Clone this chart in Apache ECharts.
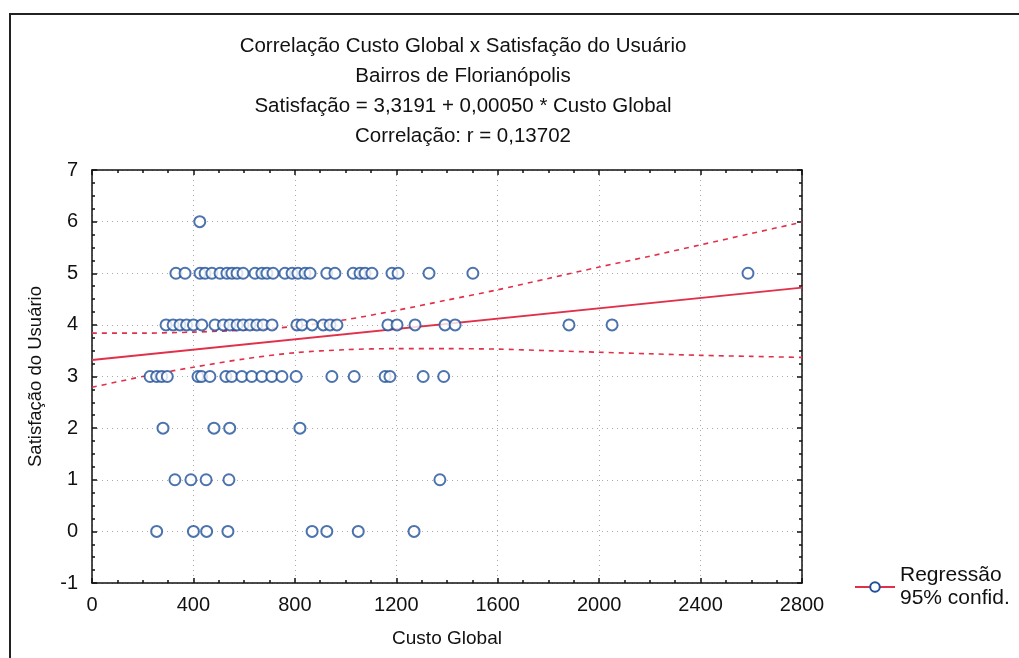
<!DOCTYPE html>
<html>
<head>
<meta charset="utf-8">
<script src="https://cdn.jsdelivr.net/npm/echarts@6/dist/echarts.min.js"></script>
<style>
html,body{margin:0;padding:0;background:#fff;}
#chart{width:1019px;height:658px;}
</style>
</head>
<body>
<div id="chart"></div>
<script>
// Custo Global values of the points at each Satisfação level
var custoAt6 = [425];
var custoAt5 = [331, 367, 426, 446, 473, 505, 532, 552, 572, 596, 643, 670, 690, 714, 761, 789, 812, 840, 860, 926, 958, 1030, 1057, 1077, 1104, 1183, 1207, 1329, 1502, 2587];
var custoAt4 = [292, 320, 347, 373, 400, 433, 485, 518, 544, 572, 596, 623, 650, 675, 710, 808, 828, 868, 912, 939, 966, 1167, 1203, 1274, 1392, 1432, 1881, 2051];
var custoAt3 = [229, 255, 275, 297, 418, 432, 465, 528, 551, 591, 630, 670, 709, 749, 805, 946, 1034, 1156, 1175, 1306, 1387];
var custoAt2 = [280, 481, 543, 820];
var custoAt1 = [327, 390, 450, 540, 1372];
var custoAt0 = [255, 400, 452, 536, 868, 926, 1050, 1270];
var levels = [6, 5, 4, 3, 2, 1, 0];

// regression line (read at the ends)
var regX = [0, 2800];
var regY = [3.32, 4.72];

// 95% confidence bands
var confX = [0, 200, 400, 600, 800, 1000, 1200, 1400, 1600, 1800, 2000, 2200, 2400, 2600, 2800];
var confUpper = [3.84, 3.84, 3.86, 3.90, 3.97, 4.10, 4.28, 4.48, 4.68, 4.90, 5.12, 5.33, 5.55, 5.77, 5.99];
var confLower = [2.79, 3.00, 3.18, 3.34, 3.46, 3.52, 3.54, 3.54, 3.53, 3.50, 3.47, 3.44, 3.41, 3.39, 3.37];

var titleLines = [
  'Correlação Custo Global x Satisfação do Usuário',
  'Bairros de Florianópolis',
  'Satisfação = 3,3191 + 0,00050 * Custo Global',
  'Correlação: r = 0,13702'
];

var custoByLevel = [custoAt6, custoAt5, custoAt4, custoAt3, custoAt2, custoAt1, custoAt0];
var points = [];
levels.forEach(function (lv, i) {
  custoByLevel[i].forEach(function (c) { points.push([c, lv]); });
});
function zip(a, b) { return a.map(function (v, i) { return [v, b[i]]; }); }

var FONT = '"Liberation Sans", Arial, sans-serif';
var BLUE = '#1f5099';
var RED = '#e0304a';
var LEG = 'Regressão\n95% confid.';

var chart = echarts.init(document.getElementById('chart'));
var axisCommon = {
  axisLine: { show: true, onZero: false, lineStyle: { color: '#111', width: 1.5 } },
  axisTick: { show: true, inside: true, length: 5, lineStyle: { color: '#111', width: 1.5 } },
  minorTick: { show: true, splitNumber: 4, length: 3, lineStyle: { color: '#111', width: 1.5 } }
};
chart.setOption({
  backgroundColor: '#ffffff',
  animation: false,
  title: titleLines.map(function (t, i) {
    return {
      text: t, left: 458, top: 31 + i * 30, textAlign: 'center',
      textStyle: { fontFamily: FONT, fontSize: 20.5, fontWeight: 'normal', color: '#111' }
    };
  }),
  grid: { left: 92, right: 217, top: 170, bottom: 75 },
  legend: {
    data: [LEG],
    left: 849, top: 559, orient: 'vertical',
    itemWidth: 40, itemHeight: 12, itemGap: 4,
    textStyle: { fontFamily: FONT, fontSize: 21, color: '#111', lineHeight: 23 }
  },
  xAxis: [
    Object.assign({
      type: 'value', min: 0, max: 2800, interval: 400,
      name: 'Custo Global', nameLocation: 'middle', nameGap: 46,
      nameTextStyle: { fontFamily: FONT, fontSize: 19, color: '#111' },
      axisLabel: { fontFamily: FONT, fontSize: 20, color: '#111', margin: 12, formatter: function (v) { return String(v); } },
      splitLine: { show: true, lineStyle: { color: '#aaaaaa', type: [1, 4], width: 1 } }
    }, axisCommon),
    Object.assign({
      type: 'value', min: 0, max: 2800, interval: 400, position: 'top',
      axisLabel: { show: false }, splitLine: { show: false }
    }, axisCommon)
  ],
  yAxis: [
    Object.assign({
      type: 'value', min: -1, max: 7, interval: 1,
      name: 'Satisfação do Usuário', nameLocation: 'middle', nameGap: 47,
      nameTextStyle: { fontFamily: FONT, fontSize: 18.5, color: '#111' },
      axisLabel: { fontFamily: FONT, fontSize: 20, color: '#111', margin: 14 },
      splitLine: { show: true, lineStyle: { color: '#aaaaaa', type: [1, 4], width: 1 } }
    }, axisCommon),
    Object.assign({
      type: 'value', min: -1, max: 7, interval: 1, position: 'right',
      axisLabel: { show: false }, splitLine: { show: false }
    }, axisCommon)
  ],
  series: [
    {
      type: 'line', name: 'upper', data: zip(confX, confUpper), showSymbol: false, symbol: 'none',
      smooth: 0.3, lineStyle: { color: RED, width: 1.6, type: [5, 5] }, z: 3
    },
    {
      type: 'line', name: 'lower', data: zip(confX, confLower), showSymbol: false, symbol: 'none',
      smooth: 0.3, lineStyle: { color: RED, width: 1.6, type: [5, 5] }, z: 3
    },
    {
      type: 'line', name: LEG, data: zip(regX, regY), showSymbol: false,
      symbol: 'emptyCircle', symbolSize: 11,
      itemStyle: { color: BLUE, borderWidth: 2 },
      lineStyle: { color: RED, width: 1.8 }, z: 3
    },
    {
      type: 'scatter', name: 'pontos', data: points, symbol: 'emptyCircle', symbolSize: 11,
      itemStyle: { color: BLUE, borderColor: BLUE, borderWidth: 2.2 }, z: 4
    }
  ],
  graphic: [{
    type: 'rect', shape: { x: 10, y: 14, width: 1030, height: 700 },
    style: { fill: null, stroke: '#222', lineWidth: 2 }, silent: true
  }]
});
</script>
</body>
</html>
